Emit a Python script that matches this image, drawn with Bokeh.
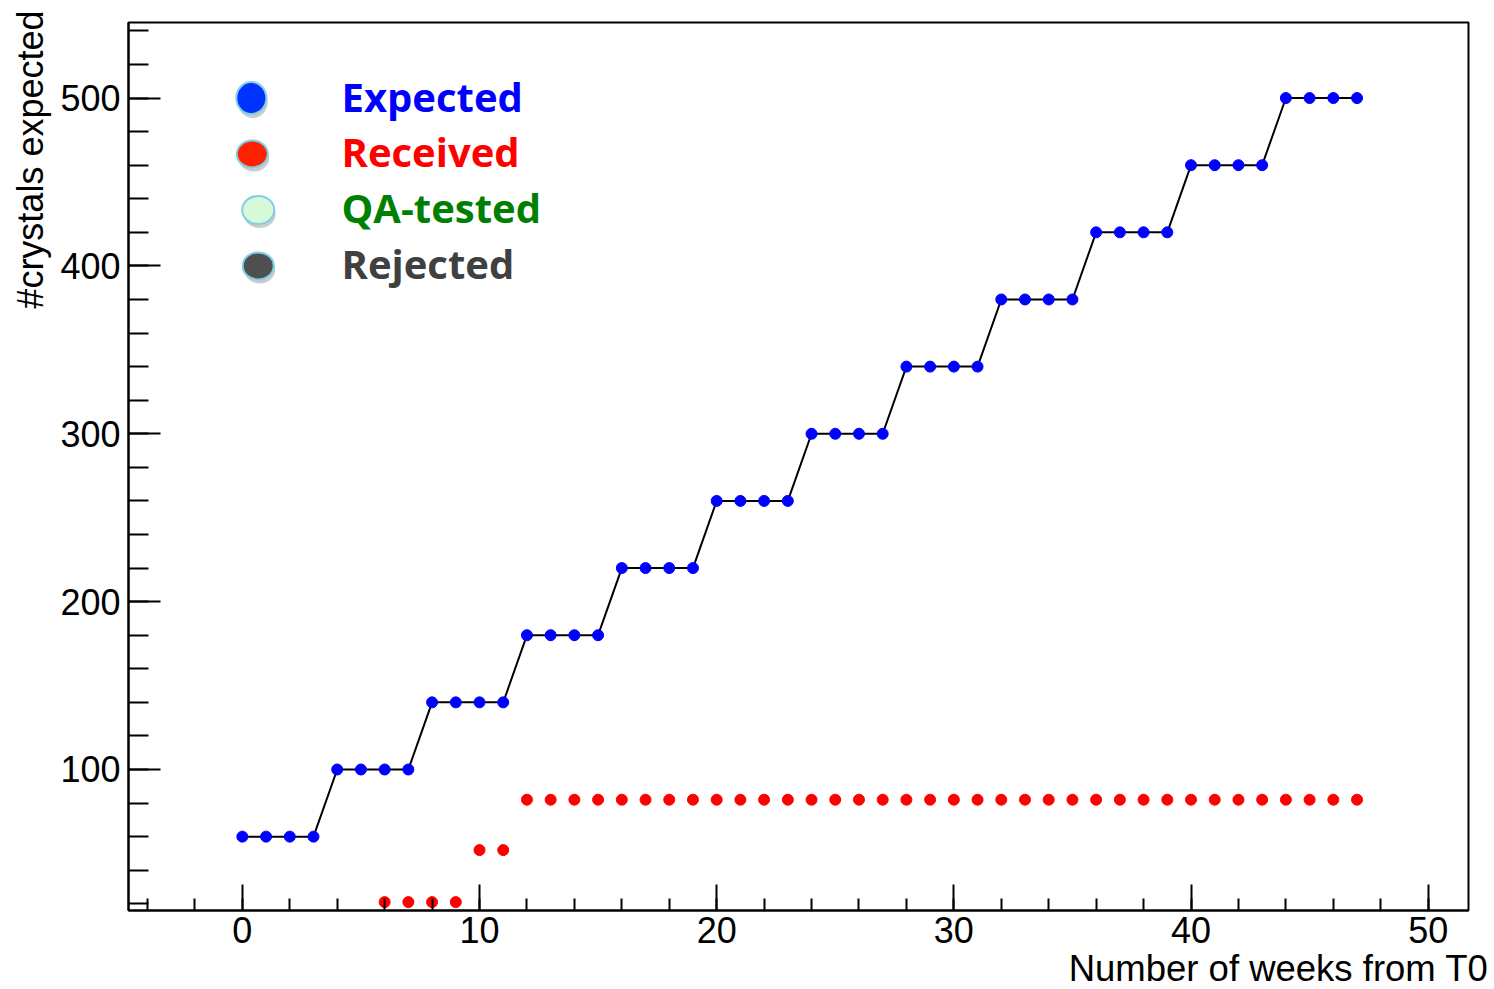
from bokeh.plotting import figure
from bokeh.models import Range1d, SingleIntervalTicker, Title, ColumnDataSource
from bokeh.embed import file_html
from bokeh.resources import INLINE
from bokeh.core.properties import value

# ---------------- data ----------------
weeks = [0, 1, 2, 3, 4, 5, 6, 7, 8, 9, 10, 11, 12, 13, 14, 15,
         16, 17, 18, 19, 20, 21, 22, 23, 24, 25, 26, 27, 28, 29, 30, 31,
         32, 33, 34, 35, 36, 37, 38, 39, 40, 41, 42, 43, 44, 45, 46, 47]
expected = [60, 60, 60, 60, 100, 100, 100, 100, 140, 140, 140, 140,
            180, 180, 180, 180, 220, 220, 220, 220, 260, 260, 260, 260,
            300, 300, 300, 300, 340, 340, 340, 340, 380, 380, 380, 380,
            420, 420, 420, 420, 460, 460, 460, 460, 500, 500, 500, 500]

received_weeks = [6, 7, 8, 9, 10, 11, 12, 13, 14, 15, 16, 17, 18, 19, 20, 21,
                  22, 23, 24, 25, 26, 27, 28, 29, 30, 31, 32, 33, 34, 35,
                  36, 37, 38, 39, 40, 41, 42, 43, 44, 45, 46, 47]
received = [21, 21, 21, 21, 52, 52, 82, 82, 82, 82, 82, 82, 82, 82, 82, 82,
            82, 82, 82, 82, 82, 82, 82, 82, 82, 82, 82, 82, 82, 82,
            82, 82, 82, 82, 82, 82, 82, 82, 82, 82, 82, 82]

legend_labels = ["Expected", "Received", "QA-tested", "Rejected"]

# ---------------- styles / layout ----------------
legend_fill = ["#0033ff", "#ff2200", "#d6f9da", "#4f4f4f"]
legend_text_color = ["#0000ff", "#ff0000", "#008000", "#404040"]
legend_mx = [0.38, 0.42, 0.67, 0.67]
legend_my = [500, 466.7, 433.3, 400]
legend_w = [30, 31, 32, 31]
legend_h = [32, 27, 28, 27]
legend_tx = 4.18
legend_text_shift = -1.2

p = figure(width=1490, height=989,
           x_range=Range1d(-4.8, 51.7), y_range=Range1d(16, 545),
           output_backend="svg", toolbar_location=None,
           min_border_left=128, min_border_right=22,
           min_border_top=22, min_border_bottom=79,
           background_fill_color="white", border_fill_color="white")

p.xgrid.visible = False
p.ygrid.visible = False
p.outline_line_color = "black"
p.outline_line_width = 2
p.outline_line_alpha = 1.0

p.xaxis.ticker = SingleIntervalTicker(interval=10, num_minor_ticks=5)
p.yaxis.ticker = SingleIntervalTicker(interval=100, num_minor_ticks=5)

for ax in (p.xaxis[0], p.yaxis[0]):
    ax.axis_line_width = 2
    ax.axis_line_color = "black"
    ax.major_tick_line_width = 2
    ax.minor_tick_line_width = 2
    ax.major_tick_line_color = "black"
    ax.minor_tick_line_color = "black"
    ax.major_tick_out = 0
    ax.minor_tick_out = 0
    ax.major_label_text_font = "Liberation Sans"
    ax.major_label_text_font_size = "36px"
    ax.major_label_text_color = "black"

p.xaxis.major_tick_in = 26
p.xaxis.minor_tick_in = 12
p.xaxis.major_label_standoff = 6
p.yaxis.major_tick_in = 32
p.yaxis.minor_tick_in = 20
p.yaxis.major_label_standoff = 8

p.add_layout(Title(text="Number of weeks from T0", align="right",
                   text_font="Liberation Sans", text_font_size="36.5px",
                   text_font_style="normal", text_color="black",
                   offset=-20, standoff=0), "below")
p.add_layout(Title(text="#crystals expected", align="right",
                   text_font="Liberation Sans", text_font_size="36px",
                   text_font_style="normal", text_color="black",
                   offset=-12, standoff=13), "left")

# data marks
p.line(weeks, expected, line_color="black", line_width=2)
p.scatter(weeks, expected, size=11, fill_color="#0000ff", line_color="#0000ff")
p.scatter(received_weeks, received, size=11, fill_color="#ff0000", line_color="#ff0000")

# custom legend
shadow_src = ColumnDataSource(dict(
    x=[v + 0.06 for v in legend_mx], y=[v - 2.4 for v in legend_my],
    w=legend_w, h=legend_h))
p.ellipse(x="x", y="y", width="w", height="h", width_units="screen",
          height_units="screen", source=shadow_src,
          fill_color="#555555", fill_alpha=0.3, line_color=None)

leg_src = ColumnDataSource(dict(x=legend_mx, y=legend_my, w=legend_w, h=legend_h,
                                fill=legend_fill))
p.ellipse(x="x", y="y", width="w", height="h", width_units="screen",
          height_units="screen", source=leg_src,
          fill_color="fill", line_color="#7fcfe9", line_width=2)

txt_src = ColumnDataSource(dict(x=[legend_tx] * len(legend_labels),
                                y=[v - legend_text_shift for v in legend_my],
                                text=legend_labels, color=legend_text_color))
p.text(x="x", y="y", text="text", source=txt_src, text_color="color",
       text_font=value("Open Sans"), text_font_style="bold",
       text_font_size="40px", text_baseline="middle", text_align="left")

open("out.html", "w").write(file_html(p, INLINE))
